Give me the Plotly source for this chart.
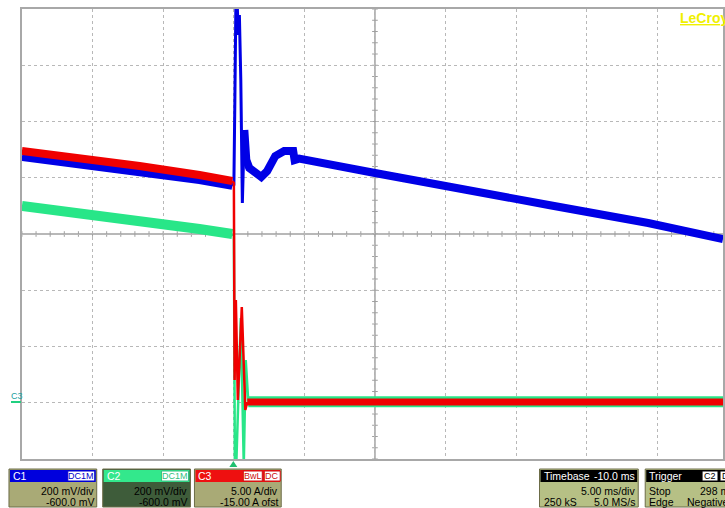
import plotly.graph_objects as go

W, H = 725, 508

# ---- data (physical units) ----
# time in ms (trigger at 0)
c1_t = [-15.0, -10.9, -6.67, -2.43, -0.1, 0.01, 0.08, 0.15, 0.25, 0.32, 0.40, 0.50, 0.61, 0.75,
        0.89, 1.10, 1.53, 1.95, 2.37, 2.94, 3.57, 4.21, 4.31, 4.63, 10.0, 15.2, 22.3, 29.35, 34.65]
c1_mv = [874, 849, 820, 792, 771, 775, 1076, 1414, 1414, 1308, 1379, 1148, 710, 970,
         863, 835, 820, 803, 824, 877, 895, 895, 863, 868, 817, 767, 703, 639, 582]

c2_t = [-15.0, -10.9, -6.67, -2.43, -0.1, 0.01, 0.08, 0.18, 0.50, 0.71, 0.85, 1.03, 34.65]
c2_mv = [700, 675, 646, 618, 600, 593, -221, -221, 301, -221, 152, 4, 4]

c3_t = [-15.0, -10.9, -6.67, -2.43, -0.1, 0.01, 0.06, 0.15, 0.29, 0.57, 0.82, 0.96, 34.65]
c3_a = [22.38, 21.76, 21.04, 20.24, 19.71, 19.53, 2.02, 9.13, 0.24, 8.51, -0.64, 0.07, 0.07]

# scope settings
t_range = [-15.0, 34.65]
mv_range = [-200, 1400]   # 200 mV/div, -600 mV offset
a_range = [-5, 35]        # 5 A/div, -15 A offset

def X(px):
    return px / W

def Y(py):
    return 1 - py / H

fig = go.Figure()

def seg(t, v, a, b, color, width, axis):
    fig.add_trace(go.Scatter(x=t[a:b], y=v[a:b], mode="lines",
                             line=dict(color=color, width=width),
                             yaxis=axis, showlegend=False, hoverinfo="skip"))

GREEN, BLUE, RED = "#28e688", "#0000e6", "#f00000"
# C2 (green)
seg(c2_t, c2_mv, 0, 5, GREEN, 10, "y")
seg(c2_t, c2_mv, 4, 12, GREEN, 2.5, "y")
seg(c2_t, c2_mv, 11, None, GREEN, 11, "y")
# C1 (blue)
seg(c1_t, c1_mv, 0, 5, BLUE, 8, "y")
seg(c1_t, c1_mv, 4, 14, BLUE, 3, "y")
seg(c1_t, c1_mv, 13, None, BLUE, 8, "y")
# C3 (red)
seg(c3_t, c3_a, 0, 5, RED, 8, "y2")
seg(c3_t, c3_a, 4, 12, RED, 2.5, "y2")
seg(c3_t, c3_a, 11, None, RED, 7, "y2")

grid = "#b8b8b8"
dom_y = [Y(459), Y(9)]
fig.update_layout(
    width=W, height=H, margin=dict(l=0, r=0, t=0, b=0),
    paper_bgcolor="white", plot_bgcolor="white",
    xaxis=dict(domain=[X(22), 1.0], range=t_range, showticklabels=False, ticks="",
               showgrid=True, gridcolor=grid, griddash="dot", gridwidth=1,
               tick0=-15, dtick=5, zeroline=False,
               showline=True, mirror=True, linecolor="#a8a8a8", linewidth=2),
    yaxis=dict(domain=dom_y, range=mv_range, showticklabels=False, ticks="",
               showgrid=True, gridcolor=grid, griddash="dot", gridwidth=1,
               tick0=-200, dtick=200, zeroline=False,
               showline=True, mirror=True, linecolor="#a8a8a8", linewidth=2),
    yaxis2=dict(domain=dom_y, range=a_range, overlaying="y", showticklabels=False,
                showgrid=False, zeroline=False, ticks=""),
    font=dict(family="Liberation Sans", size=11, color="black"),
)

shapes = []
# center lines
shapes.append(dict(type="line", xref="x", yref="y", x0=t_range[0], x1=t_range[1], y0=600, y1=600,
                   line=dict(color="#a0a0a0", width=1.5), layer="below"))
shapes.append(dict(type="line", xref="x", yref="y", x0=10, x1=10, y0=mv_range[0], y1=mv_range[1],
                   line=dict(color="#a0a0a0", width=1.5), layer="below"))
# minor ticks on center lines
for k in range(-15, 35):
    shapes.append(dict(type="line", xref="x", yref="y", x0=k, x1=k, y0=590, y1=610,
                       line=dict(color="#a0a0a0", width=1), layer="below"))
for k in range(-200, 1401, 40):
    shapes.append(dict(type="line", xref="x", yref="y", x0=9.8, x1=10.2, y0=k, y1=k,
                       line=dict(color="#a0a0a0", width=1), layer="below"))

annotations = []
FS = 10.5

def box(x0, x1, body, header, header_text, header_color="white", border="#6c6c48"):
    shapes.append(dict(type="rect", xref="paper", yref="paper", x0=X(x0), x1=X(x1), y0=Y(507), y1=Y(469),
                       fillcolor=body, line=dict(color=border, width=1)))
    shapes.append(dict(type="rect", xref="paper", yref="paper", x0=X(x0 + 1), x1=X(x1 - 1), y0=Y(482), y1=Y(470),
                       fillcolor=header, line=dict(width=0)))
    annotations.append(dict(xref="paper", yref="paper", x=X(x0 + 2), y=Y(476), text=header_text,
                            showarrow=False, xanchor="left", yanchor="middle",
                            font=dict(size=FS, color=header_color)))

def badge(x0, x1, text, color):
    shapes.append(dict(type="rect", xref="paper", yref="paper", x0=X(x0), x1=X(x1), y0=Y(481), y1=Y(471),
                       fillcolor="white", line=dict(color=color, width=1)))
    annotations.append(dict(xref="paper", yref="paper", x=X((x0 + x1) / 2), y=Y(476), text=text,
                            showarrow=False, xanchor="center", yanchor="middle",
                            font=dict(size=9, color=color)))

def txt(x, y, text, anchor="right", color="black", size=FS):
    annotations.append(dict(xref="paper", yref="paper", x=X(x), y=Y(y), text=text, showarrow=False,
                            xanchor=anchor, yanchor="middle", font=dict(size=size, color=color)))

khaki = "#a9aa76"
box(9, 97, khaki, "#0000dd", "C1")
badge(68, 95, "DC1M", "#0000cc")
txt(96, 491, "200 mV/div")
txt(96, 502, "-600.0 mV")

box(103, 191, "#3e5c3a", "#33e88c", "C2")
badge(162, 189, "DC1M", "#33c080")
txt(190, 491, "200 mV/div")
txt(190, 502, "-600.0 mV")

box(195, 282, khaki, "#ee1010", "C3")
badge(244, 263, "BwL", "#cc1010")
badge(265, 281, "DC", "#cc1010")
txt(281, 491, "5.00 A/div")
txt(281, 502, "-15.00 A ofst")

lime = "#b6c085"
box(541, 640, lime, "black", "Timebase")
txt(639, 476, "-10.0 ms", color="white")
txt(639, 491, "5.00 ms/div")
txt(543, 502, "250 kS", anchor="left")
txt(639, 502, "5.0 MS/s")

box(647, 760, lime, "black", "Trigger")
badge(704, 720, "C2", "black")
badge(722, 740, "DC", "black")
txt(649, 491, "Stop", anchor="left")
txt(700, 491, "298 mV", anchor="left")
txt(649, 502, "Edge", anchor="left")
txt(687, 502, "Negative", anchor="left")

# trigger marker
shapes.append(dict(type="path", xref="paper", yref="paper",
                   path=f"M {X(230)} {Y(467)} L {X(238)} {Y(467)} L {X(234)} {Y(461)} Z",
                   fillcolor="#20c070", line=dict(width=0)))
# C3 ground marker
txt(9, 396, "C3", anchor="left", color="#20a0a0", size=9)
shapes.append(dict(type="line", xref="paper", yref="paper", x0=X(11), x1=X(21), y0=Y(402), y1=Y(402),
                   line=dict(color="#20d080", width=2)))
# LeCroy logo
txt(680, 18, "<b><u>LeCroy</u></b>", anchor="left", color="#f0f000", size=14)

fig.update_layout(shapes=shapes, annotations=annotations)
fig.write_html("out.html")
